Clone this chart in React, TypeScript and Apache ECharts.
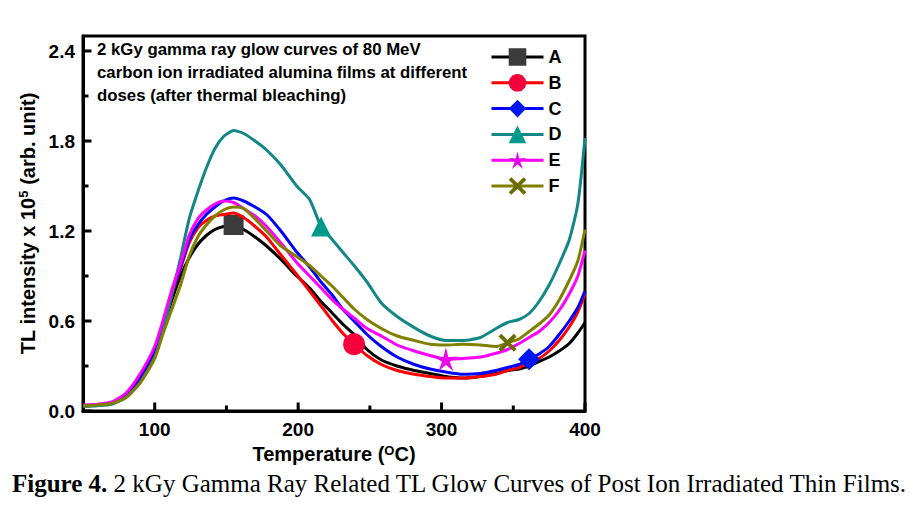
import React, { useEffect, useRef } from 'react';
import * as echarts from 'echarts';

// Temperature grid (°C) shared by all glow curves
const temperature = [
  50, 60, 70, 80, 90, 100, 106, 112, 118, 124, 130, 136, 142, 148, 155, 162, 170, 178, 188, 199,
  208, 216, 224, 231, 239, 248, 258, 269, 281, 292, 303, 315, 327, 338, 346, 354, 361, 368, 375,
  382, 389, 395, 400,
];

// TL intensity (x 10^5, arb. unit)
const curveA = [
  0.035, 0.04, 0.05, 0.1, 0.22, 0.39, 0.56, 0.74, 0.9, 1.02, 1.11, 1.17, 1.21, 1.23, 1.24, 1.21, 1.16,
  1.1, 1.01, 0.9, 0.82, 0.73, 0.65, 0.58, 0.51, 0.41, 0.34, 0.3, 0.27, 0.25, 0.23, 0.22, 0.23, 0.25,
  0.27, 0.28, 0.3, 0.33, 0.36, 0.4, 0.45, 0.52, 0.59,
];
const curveB = [
  0.03, 0.04, 0.055, 0.11, 0.23, 0.41, 0.59, 0.78, 0.95, 1.12, 1.22, 1.27, 1.3, 1.31, 1.32, 1.29, 1.23,
  1.16, 1.04, 0.91, 0.8, 0.7, 0.6, 0.52, 0.445, 0.37, 0.31, 0.27, 0.245, 0.23, 0.22, 0.22, 0.23, 0.245,
  0.27, 0.29, 0.32, 0.35, 0.4, 0.47, 0.56, 0.66, 0.78,
];
const curveC = [
  0.035, 0.04, 0.055, 0.11, 0.23, 0.41, 0.59, 0.79, 0.96, 1.14, 1.24, 1.31, 1.36, 1.4, 1.42, 1.4, 1.36,
  1.31, 1.2, 1.06, 0.96, 0.86, 0.77, 0.68, 0.6, 0.51, 0.43, 0.36, 0.31, 0.28, 0.26, 0.245, 0.25, 0.27,
  0.29, 0.31, 0.345, 0.38, 0.43, 0.51, 0.6, 0.69, 0.8,
];
const curveD = [
  0.03, 0.035, 0.045, 0.09, 0.19, 0.36, 0.54, 0.78, 1.02, 1.28, 1.46, 1.62, 1.75, 1.83, 1.87, 1.85, 1.8,
  1.74, 1.64, 1.5, 1.41, 1.23, 1.14, 1.06, 0.97, 0.86, 0.72, 0.63, 0.556, 0.5, 0.47, 0.47, 0.49, 0.55,
  0.59, 0.61, 0.65, 0.73, 0.84, 0.98, 1.14, 1.38, 1.82,
];
const curveE = [
  0.04, 0.045, 0.06, 0.12, 0.25, 0.43, 0.61, 0.81, 0.98, 1.17, 1.28, 1.34, 1.38, 1.4, 1.39, 1.35, 1.3,
  1.23, 1.12, 0.99, 0.9, 0.82, 0.74, 0.68, 0.62, 0.55, 0.5, 0.44, 0.4, 0.37, 0.345, 0.35, 0.36, 0.385,
  0.41, 0.45, 0.49, 0.53, 0.59, 0.67, 0.78, 0.9, 1.07,
];
const curveF = [
  0.035, 0.04, 0.05, 0.09, 0.19, 0.35, 0.52, 0.68, 0.84, 1.03, 1.16, 1.24, 1.3, 1.34, 1.36, 1.35, 1.28,
  1.2, 1.1, 1.03, 0.97, 0.9, 0.83, 0.76, 0.68, 0.61, 0.55, 0.5, 0.47, 0.445, 0.44, 0.445, 0.44, 0.43,
  0.455, 0.48, 0.53, 0.58, 0.64, 0.74, 0.87, 1.0, 1.21,
];

const seriesNames = ['A', 'B', 'C', 'D', 'E', 'F'];
const seriesValues = [curveA, curveB, curveC, curveD, curveE, curveF];
// index of the point on each curve that carries its marker
const markerIndex = [14, 24, 36, 21, 30, 34];

const xMin = 50;
const xMax = 400;
const yMin = 0;
const yMax = 2.5;
const xMajorTicks = [100, 200, 300, 400];
const xMinorTicks = [150, 250, 350];
const yMajorTicks = [0, 0.6, 1.2, 1.8, 2.4];
const yMinorTicks = [0.3, 0.9, 1.5, 2.1];

const noteLines = [
  '2 kGy gamma ray glow curves of 80 MeV',
  'carbon ion irradiated alumina films at different',
  'doses (after thermal bleaching)',
];

function starPath(outer: number, inner: number): string {
  const pts: string[] = [];
  for (let k = 0; k < 10; k++) {
    const r = k % 2 === 0 ? outer : inner;
    const a = -Math.PI / 2 + (k * Math.PI) / 5;
    pts.push(`${(outer + r * Math.cos(a)).toFixed(2)} ${(outer + r * Math.sin(a)).toFixed(2)}`);
  }
  return 'path://M' + pts.join(' L') + ' Z';
}

const STAR = starPath(10, 3.2);
const CROSS = 'path://M0 3 L3 0 L10 7 L17 0 L20 3 L13 10 L20 17 L17 20 L10 13 L3 20 L0 17 L7 10 Z';

const looks = [
  { line: '#000000', mark: '#3b3b3b', symbol: 'rect', size: 20 },
  { line: '#ff0000', mark: '#f5003c', symbol: 'circle', size: 22 },
  { line: '#0000ff', mark: '#0018f0', symbol: 'diamond', size: 22 },
  { line: '#138787', mark: '#00998a', symbol: 'triangle', size: 20 },
  { line: '#ff00ff', mark: '#ee00ee', symbol: STAR, size: 24 },
  { line: '#808000', mark: '#6b6b00', symbol: CROSS, size: 18 },
];

const FONT = "'Liberation Sans', Arial, sans-serif";
const SERIF = "'Liberation Serif', 'Times New Roman', serif";

const MAJOR_LEN = 8.5;
const MINOR_LEN = 5.5;

export default function App() {
  const ref = useRef<HTMLDivElement>(null);

  useEffect(() => {
    if (!ref.current) return;
    const chart = echarts.init(ref.current, undefined, { renderer: 'svg' });

    const isMajorY = (v: number) => yMajorTicks.some((t) => Math.abs(t - v) < 1e-6);

    const curves = seriesNames.map((name, s) => ({
      type: 'line',
      name,
      symbol: looks[s].symbol,
      symbolSize: looks[s].size,
      showSymbol: true,
      showAllSymbol: true,
      smooth: 0.2,
      lineStyle: { color: looks[s].line, width: 3 },
      itemStyle: { color: looks[s].mark },
      data: temperature.map((t, i) =>
        i === markerIndex[s]
          ? { value: [t, seriesValues[s][i]] }
          : { value: [t, seriesValues[s][i]], symbol: 'none' }
      ),
      z: 2 + s,
    }));

    // inward tick marks: [x, y, direction (0 = up from x axis, 1 = right from y axis), length]
    const tickRows = [
      ...xMajorTicks.map((v) => [v, yMin, 0, MAJOR_LEN]),
      ...xMinorTicks.map((v) => [v, yMin, 0, MINOR_LEN]),
      ...yMajorTicks.map((v) => [xMin, v, 1, MAJOR_LEN]),
      ...yMinorTicks.map((v) => [xMin, v, 1, MINOR_LEN]),
    ];
    const tickSeries = {
      type: 'custom',
      clip: false,
      z: 20,
      data: tickRows,
      renderItem: (_p: any, api: any) => {
        const pt = api.coord([api.value(0), api.value(1)]);
        const len = api.value(3);
        const up = api.value(2) === 0;
        return {
          type: 'line',
          shape: up
            ? { x1: pt[0], y1: pt[1], x2: pt[0], y2: pt[1] - len }
            : { x1: pt[0], y1: pt[1], x2: pt[0] + len, y2: pt[1] },
          style: { stroke: '#000', lineWidth: 3 },
        };
      },
    };

    const supStyle = {
      fontFamily: FONT,
      fontWeight: 'bold',
      fontSize: 13,
      color: '#000',
      verticalAlign: 'top',
      padding: [0, 0, 8, 0],
    };

    chart.setOption({
      animation: false,
      grid: {
        left: 83,
        right: 331,
        top: 36,
        bottom: 102,
        show: true,
        borderColor: '#000',
        borderWidth: 3,
      },
      legend: {
        left: 490,
        top: 48,
        padding: 0,
        orient: 'vertical',
        itemWidth: 52,
        itemHeight: 22,
        itemGap: 7.8,
        data: seriesNames,
        lineStyle: { width: 3 },
        textStyle: { fontFamily: FONT, fontWeight: 'bold', fontSize: 18, color: '#000' },
      },
      xAxis: {
        type: 'value',
        min: xMin,
        max: xMax,
        splitLine: { show: false },
        axisLine: { show: true, onZero: false, lineStyle: { color: '#000', width: 3 } },
        axisTick: { show: false },
        axisLabel: {
          customValues: xMajorTicks,
          margin: 9,
          fontFamily: FONT,
          fontWeight: 'bold',
          fontSize: 19,
          color: '#000',
        },
        name: 'Temperature ({sup|O}C)',
        nameLocation: 'middle',
        nameGap: 31,
        nameTextStyle: {
          fontFamily: FONT,
          fontWeight: 'bold',
          fontSize: 20,
          color: '#000',
          verticalAlign: 'top',
          rich: { sup: supStyle },
        },
      },
      yAxis: {
        type: 'value',
        min: yMin,
        max: yMax,
        splitLine: { show: false },
        axisLine: { show: true, onZero: false, lineStyle: { color: '#000', width: 3 } },
        axisTick: { show: false },
        axisLabel: {
          customValues: yMajorTicks,
          margin: 8,
          fontFamily: FONT,
          fontWeight: 'bold',
          fontSize: 19,
          color: '#000',
          formatter: (v: number) => (isMajorY(v) ? v.toFixed(1) : ''),
        },
        name: 'TL intensity x 10{sup|5} (arb. unit)',
        nameLocation: 'middle',
        nameRotate: 90,
        nameGap: 45,
        nameTextStyle: {
          fontFamily: FONT,
          fontWeight: 'bold',
          fontSize: 20,
          color: '#000',
          rich: { sup: supStyle },
        },
      },
      graphic: [
        {
          type: 'text',
          left: 97,
          top: 38,
          style: {
            text: noteLines.join('\n'),
            fontFamily: FONT,
            fontWeight: 'bold',
            fontSize: 16.8,
            lineHeight: 23,
            fill: '#000',
          },
        },
        {
          type: 'text',
          left: 12,
          top: 471,
          style: {
            text: '{b|Figure 4.} 2 kGy Gamma Ray Related TL Glow Curves of Post Ion Irradiated Thin Films.',
            fontFamily: SERIF,
            fontSize: 25,
            fill: '#000',
            rich: {
              b: { fontFamily: SERIF, fontSize: 25, fontWeight: 'bold', fill: '#000' },
            },
          },
        },
      ],
      series: [...curves, tickSeries],
    });

    return () => chart.dispose();
  }, []);

  return <div ref={ref} style={{ position: 'absolute', left: 0, top: 0, width: 916, height: 513 }} />;
}
